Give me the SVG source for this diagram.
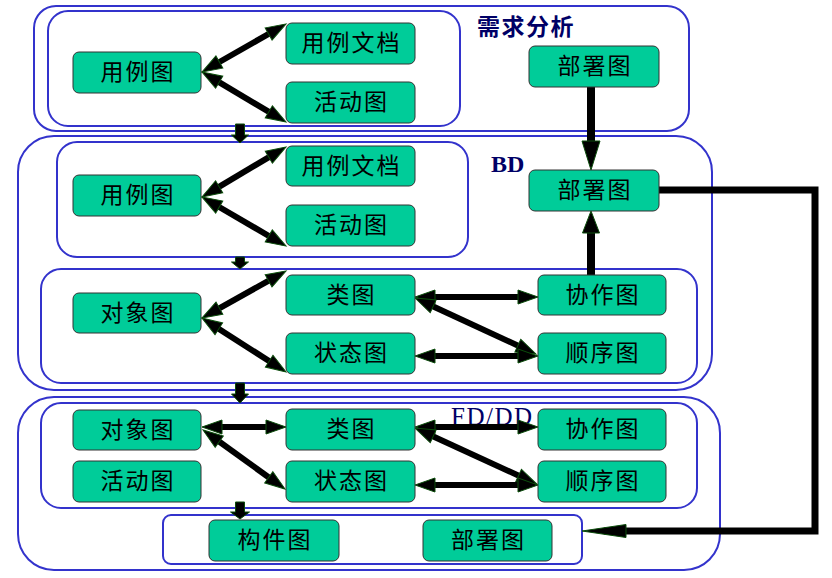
<svg xmlns="http://www.w3.org/2000/svg" width="832" height="578" viewBox="0 0 832 578">
<style>
.ct{fill:none;stroke:#3333cc;stroke-width:2}
.nd{fill:#00cc99;stroke:#333333;stroke-width:1}
.lb{font-family:'Liberation Sans','Noto Sans CJK SC',sans-serif;font-size:23px;letter-spacing:2px;fill:#000;text-anchor:middle}
.ttl{fill:#000066}
.cn{fill:none;stroke:#000;stroke-width:6}
.dn{fill:#000;stroke:#0b4d0b;stroke-width:1}
</style>
<defs>
<marker id="ah" markerUnits="userSpaceOnUse" markerWidth="20" markerHeight="14" viewBox="0 0 20 14" refX="10" refY="7" orient="auto-start-reverse" overflow="visible"><path d="M0,0 L20,7 L0,14 Z" fill="#000" stroke="#0b4d0b" stroke-width="1"/></marker>
<marker id="ahBig" markerUnits="userSpaceOnUse" markerWidth="29" markerHeight="18" viewBox="0 0 29 18" refX="14.5" refY="9" orient="auto" overflow="visible"><path d="M0,0 L29,9 L0,18 Z" fill="#000" stroke="#0b4d0b" stroke-width="1"/></marker>
<marker id="ahMed" markerUnits="userSpaceOnUse" markerWidth="22" markerHeight="17" viewBox="0 0 22 17" refX="11" refY="8.5" orient="auto" overflow="visible"><path d="M0,0 L22,8.5 L0,17 Z" fill="#000" stroke="#0b4d0b" stroke-width="1"/></marker>
<marker id="ahLong" markerUnits="userSpaceOnUse" markerWidth="44" markerHeight="13" viewBox="0 0 44 13" refX="22" refY="6.5" orient="auto" overflow="visible"><path d="M0,0 L44,6.5 L0,13 Z" fill="#000" stroke="#0b4d0b" stroke-width="1"/></marker>
</defs>
<rect width="832" height="578" fill="#fff"/>
<g id="containers">
<rect class="ct" x="34" y="6" width="655" height="125" rx="22"/>
<rect class="ct" x="48" y="11" width="412" height="115" rx="20"/>
<rect class="ct" x="18" y="136" width="694" height="254" rx="36"/>
<rect class="ct" x="57" y="142" width="411" height="115" rx="20"/>
<rect class="ct" x="41" y="269" width="656" height="114" rx="20"/>
<rect class="ct" x="18" y="397" width="702" height="173" rx="36"/>
<rect class="ct" x="41" y="403" width="656" height="105" rx="20"/>
<rect class="ct" x="163" y="515" width="419" height="49" rx="8"/>
</g>
<g id="titles">
<text x="477" y="35" class="ttl" font-family="'Liberation Sans','Noto Sans CJK SC',sans-serif" font-size="23" font-weight="bold" letter-spacing="1.5">需求分析</text>
<text x="491" y="172" class="ttl" font-family="'Liberation Serif',serif" font-size="24" font-weight="bold">BD</text>
<text x="451" y="425" class="ttl" font-family="'Liberation Serif',serif" font-size="25" letter-spacing="1.5">FD/DD</text>
</g>
<g id="connectors">
<line class="cn" x1="210.7" y1="67" x2="277.3" y2="29" marker-start="url(#ah)" marker-end="url(#ah)"/>
<line class="cn" x1="210.6" y1="77.1" x2="277.4" y2="116.9" marker-start="url(#ah)" marker-end="url(#ah)"/>
<line class="cn" x1="210.6" y1="191.9" x2="277.4" y2="152.1" marker-start="url(#ah)" marker-end="url(#ah)"/>
<line class="cn" x1="210.6" y1="202" x2="277.4" y2="241" marker-start="url(#ah)" marker-end="url(#ah)"/>
<line class="cn" x1="210.7" y1="313.1" x2="277.3" y2="275.9" marker-start="url(#ah)" marker-end="url(#ah)"/>
<line class="cn" x1="210.4" y1="323.4" x2="277.6" y2="366.6" marker-start="url(#ah)" marker-end="url(#ah)"/>
<line class="cn" x1="425" y1="297" x2="528" y2="297" marker-start="url(#ah)" marker-end="url(#ah)"/>
<line class="cn" x1="424.1" y1="302.2" x2="526.9" y2="349.8" marker-start="url(#ah)" marker-end="url(#ah)"/>
<line class="cn" x1="425" y1="356" x2="528" y2="356" marker-start="url(#ah)" marker-end="url(#ah)"/>
<line class="cn" x1="212" y1="427" x2="276" y2="427" marker-start="url(#ah)" marker-end="url(#ah)"/>
<line class="cn" x1="211.1" y1="435.8" x2="276.9" y2="483.2" marker-start="url(#ah)" marker-end="url(#ah)"/>
<line class="cn" x1="425" y1="427" x2="528" y2="427" marker-start="url(#ah)" marker-end="url(#ah)"/>
<line class="cn" x1="424.1" y1="432.2" x2="527.6" y2="479.8" marker-start="url(#ah)" marker-end="url(#ah)"/>
<line class="cn" x1="425" y1="485" x2="528" y2="485" marker-start="url(#ah)" marker-end="url(#ah)"/>
<line x1="591" y1="87" x2="591" y2="155.5" stroke="#000" stroke-width="8" marker-end="url(#ahBig)"/>
<line x1="591" y1="275" x2="591" y2="222" stroke="#000" stroke-width="8" marker-end="url(#ahMed)"/>
<polyline points="659,190 815,190 815,531 604,531" fill="none" stroke="#000" stroke-width="7" stroke-linejoin="miter" marker-end="url(#ahLong)"/>
<polygon class="dn" points="235.5,124 244.5,124 244.5,135 248.5,135 240,143 231.5,135 235.5,135"/>
<polygon class="dn" points="235.5,257 244.5,257 244.5,262 248.5,262 240,269 231.5,262 235.5,262"/>
<polygon class="dn" points="235.5,383 244.5,383 244.5,394 248.5,394 240,403 231.5,394 235.5,394"/>
<polygon class="dn" points="235.5,502 244.5,502 244.5,512 249.5,512 240,519 230.5,512 235.5,512"/>
</g>
<g id="n_uc1"><rect class="nd" x="73" y="52" width="128" height="41" rx="6"/><text class="lb" x="138" y="80">用例图</text></g>
<g id="n_ucdoc1"><rect class="nd" x="286" y="23" width="129" height="41" rx="6"/><text class="lb" x="351.5" y="51">用例文档</text></g>
<g id="n_act1"><rect class="nd" x="286" y="82" width="129" height="41" rx="6"/><text class="lb" x="351.5" y="110">活动图</text></g>
<g id="n_dep1"><rect class="nd" x="529" y="46" width="130" height="41" rx="6"/><text class="lb" x="595" y="74">部署图</text></g>
<g id="n_uc2"><rect class="nd" x="73" y="175" width="128" height="41" rx="6"/><text class="lb" x="138" y="203">用例图</text></g>
<g id="n_ucdoc2"><rect class="nd" x="286" y="146" width="129" height="40" rx="6"/><text class="lb" x="351.5" y="173.5">用例文档</text></g>
<g id="n_act2"><rect class="nd" x="286" y="205" width="129" height="41" rx="6"/><text class="lb" x="351.5" y="233">活动图</text></g>
<g id="n_dep2"><rect class="nd" x="529" y="170" width="130" height="41" rx="6"/><text class="lb" x="595" y="198">部署图</text></g>
<g id="n_obj2"><rect class="nd" x="73" y="293" width="128" height="40" rx="6"/><text class="lb" x="138" y="320.5">对象图</text></g>
<g id="n_cls2"><rect class="nd" x="286" y="275" width="129" height="40" rx="6"/><text class="lb" x="351.5" y="302.5">类图</text></g>
<g id="n_st2"><rect class="nd" x="286" y="333" width="129" height="41" rx="6"/><text class="lb" x="351.5" y="361">状态图</text></g>
<g id="n_col2"><rect class="nd" x="538" y="275" width="128" height="40" rx="6"/><text class="lb" x="603" y="302.5">协作图</text></g>
<g id="n_seq2"><rect class="nd" x="538" y="333" width="128" height="41" rx="6"/><text class="lb" x="603" y="361">顺序图</text></g>
<g id="n_obj3"><rect class="nd" x="73" y="410" width="128" height="40" rx="6"/><text class="lb" x="138" y="437.5">对象图</text></g>
<g id="n_act3"><rect class="nd" x="73" y="461" width="128" height="41" rx="6"/><text class="lb" x="138" y="489">活动图</text></g>
<g id="n_cls3"><rect class="nd" x="286" y="409" width="129" height="41" rx="6"/><text class="lb" x="351.5" y="437">类图</text></g>
<g id="n_st3"><rect class="nd" x="286" y="461" width="129" height="41" rx="6"/><text class="lb" x="351.5" y="489">状态图</text></g>
<g id="n_col3"><rect class="nd" x="538" y="409" width="128" height="41" rx="6"/><text class="lb" x="603" y="437">协作图</text></g>
<g id="n_seq3"><rect class="nd" x="538" y="461" width="128" height="41" rx="6"/><text class="lb" x="603" y="489">顺序图</text></g>
<g id="n_cmp3"><rect class="nd" x="209" y="520" width="130" height="41" rx="6"/><text class="lb" x="275" y="548">构件图</text></g>
<g id="n_dep3"><rect class="nd" x="423" y="520" width="129" height="41" rx="6"/><text class="lb" x="488.5" y="548">部署图</text></g>
</svg>
